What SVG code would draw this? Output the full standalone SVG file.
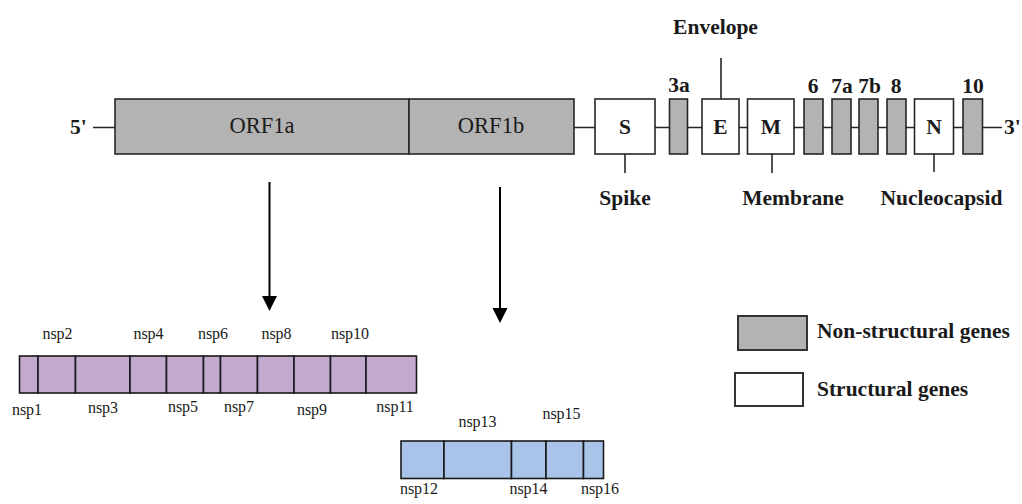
<svg xmlns="http://www.w3.org/2000/svg" width="1022" height="504" viewBox="0 0 1022 504">
  <style>
    text { font-family: "Liberation Serif", "Tinos", "Times New Roman", "DejaVu Serif", serif; fill: #1a1a1a; }
    .lbl { font-weight: bold; font-size: 21.5px; }
    .orf { font-weight: normal; font-size: 22.5px; }
    .nsp { font-size: 16px; }
    .mid { text-anchor: middle; }
    .gene { stroke: #262626; stroke-width: 1.6; }
    .ns { fill: #b3b3b3; }
    .st { fill: #ffffff; }
    .pur { fill: #c4a9cf; stroke: #1a1a1a; stroke-width: 1.6; }
    .blu { fill: #a9c4e8; stroke: #1a1a1a; stroke-width: 1.6; }
    .wire { stroke: #262626; stroke-width: 1.6; fill: none; }
    .arrow { stroke: #000; stroke-width: 2; }
  </style>
  <defs>
    <path id="head" d="M-7.5,0 L7.5,0 L0,15 Z" fill="#000"/>
  </defs>
  <rect width="1022" height="504" fill="#ffffff"/>

  <!-- genome backbone, leader lines and processing arrows -->
  <g id="connectors">
    <line class="wire" x1="93" y1="127.5" x2="1002" y2="127.5"/>
    <line class="wire" x1="721" y1="58" x2="721" y2="99"/>
    <line class="wire" x1="625" y1="154" x2="625" y2="173"/>
    <line class="wire" x1="772" y1="154" x2="772" y2="173"/>
    <line class="wire" x1="934" y1="154" x2="934" y2="172"/>
    <line class="arrow" x1="269.5" y1="182" x2="269.5" y2="298"/>
    <use href="#head" x="269.5" y="296"/>
    <line class="arrow" x1="500" y1="187" x2="500" y2="310"/>
    <use href="#head" x="500" y="308"/>
  </g>

  <text class="lbl" x="70" y="134" font-family="Liberation Serif, serif">5'</text>
  <text class="lbl" x="1004" y="134" font-family="Liberation Serif, serif">3'</text>

  <!-- genome genes -->
  <g id="orf1a"><rect class="gene ns" x="115" y="99" width="294" height="55"/><text class="orf mid" x="262" y="133">ORF1a</text></g>
  <g id="orf1b"><rect class="gene ns" x="409" y="99" width="165" height="55"/><text class="orf mid" x="491" y="133">ORF1b</text></g>
  <g id="gene-s"><rect class="gene st" x="595" y="99" width="60" height="55"/><text class="lbl mid" x="625" y="134">S</text><text class="lbl mid" x="625" y="205">Spike</text></g>
  <g id="gene-3a"><rect class="gene ns" x="669.5" y="99" width="18" height="55"/><text class="lbl mid" x="679" y="92">3a</text></g>
  <g id="gene-e"><rect class="gene st" x="702" y="99" width="37" height="55"/><text class="lbl mid" x="720.5" y="134">E</text><text class="lbl mid" x="715.5" y="34">Envelope</text></g>
  <g id="gene-m"><rect class="gene st" x="747.5" y="99" width="46.5" height="55"/><text class="lbl mid" x="771" y="134">M</text><text class="lbl mid" x="793" y="205">Membrane</text></g>
  <g id="gene-6"><rect class="gene ns" x="804" y="99" width="19" height="55"/><text class="lbl mid" x="813" y="93">6</text></g>
  <g id="gene-7a"><rect class="gene ns" x="832" y="99" width="19" height="55"/><text class="lbl mid" x="842" y="93">7a</text></g>
  <g id="gene-7b"><rect class="gene ns" x="859" y="99" width="19" height="55"/><text class="lbl mid" x="869.5" y="93">7b</text></g>
  <g id="gene-8"><rect class="gene ns" x="887" y="99" width="19" height="55"/><text class="lbl mid" x="896" y="93">8</text></g>
  <g id="gene-n"><rect class="gene st" x="914.5" y="99" width="39" height="55"/><text class="lbl mid" x="934" y="134">N</text><text class="lbl mid" x="941.5" y="205">Nucleocapsid</text></g>
  <g id="gene-10"><rect class="gene ns" x="963" y="99" width="19.5" height="55"/><text class="lbl mid" x="973" y="93">10</text></g>

  <!-- ORF1a products -->
  <g id="nsp1-11">
    <rect class="pur" x="19.5" y="356" width="18.5" height="37"/>
    <rect class="pur" x="38" y="356" width="37.5" height="37"/>
    <rect class="pur" x="75.5" y="356" width="54.5" height="37"/>
    <rect class="pur" x="130" y="356" width="36.5" height="37"/>
    <rect class="pur" x="166.5" y="356" width="37" height="37"/>
    <rect class="pur" x="203.5" y="356" width="17" height="37"/>
    <rect class="pur" x="220.5" y="356" width="37" height="37"/>
    <rect class="pur" x="257.5" y="356" width="36.5" height="37"/>
    <rect class="pur" x="294" y="356" width="36.5" height="37"/>
    <rect class="pur" x="330.5" y="356" width="35.5" height="37"/>
    <rect class="pur" x="366" y="356" width="50.5" height="37"/>
    <text class="nsp mid" x="57.5" y="339">nsp2</text>
    <text class="nsp mid" x="148.5" y="339">nsp4</text>
    <text class="nsp mid" x="213" y="339">nsp6</text>
    <text class="nsp mid" x="276.5" y="339">nsp8</text>
    <text class="nsp mid" x="350" y="339">nsp10</text>
    <text class="nsp mid" x="27" y="415">nsp1</text>
    <text class="nsp mid" x="103" y="413">nsp3</text>
    <text class="nsp mid" x="183" y="412">nsp5</text>
    <text class="nsp mid" x="239" y="412">nsp7</text>
    <text class="nsp mid" x="312" y="415">nsp9</text>
    <text class="nsp mid" x="395" y="412">nsp11</text>
  </g>

  <!-- ORF1b products -->
  <g id="nsp12-16">
    <rect class="blu" x="401" y="441" width="43" height="37.5"/>
    <rect class="blu" x="444" y="441" width="67.5" height="37.5"/>
    <rect class="blu" x="511.5" y="441" width="34.5" height="37.5"/>
    <rect class="blu" x="546" y="441" width="37.5" height="37.5"/>
    <rect class="blu" x="583.5" y="441" width="20" height="37.5"/>
    <text class="nsp mid" x="477.5" y="427">nsp13</text>
    <text class="nsp mid" x="561.5" y="419">nsp15</text>
    <text class="nsp mid" x="419" y="494">nsp12</text>
    <text class="nsp mid" x="528.5" y="494">nsp14</text>
    <text class="nsp mid" x="600" y="494">nsp16</text>
  </g>

  <!-- key -->
  <g id="legend-nonstructural"><rect class="ns" x="738" y="316" width="69" height="34" stroke="#333" stroke-width="2"/><text class="lbl" x="817" y="338">Non-structural genes</text></g>
  <g id="legend-structural"><rect class="st" x="735" y="373" width="68" height="33" stroke="#333" stroke-width="2"/><text class="lbl" x="817" y="396">Structural genes</text></g>
</svg>
